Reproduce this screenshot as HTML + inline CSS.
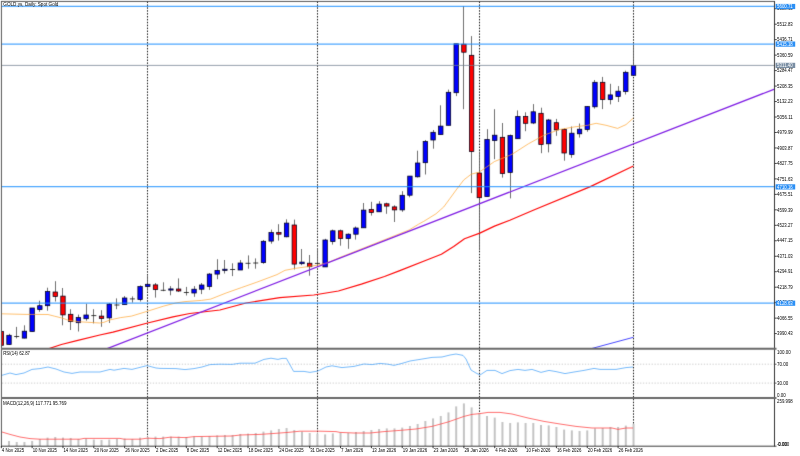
<!DOCTYPE html>
<html><head><meta charset="utf-8"><title>GOLD Daily</title>
<style>html,body{margin:0;padding:0;background:#fff;overflow:hidden}body{width:800px;height:456px;position:relative;font-family:"Liberation Sans",sans-serif}</style>
</head><body>
<svg width="800" height="456" viewBox="0 0 800 456" style="position:absolute;left:0;top:0;font-family:'Liberation Sans',sans-serif">
<defs><filter id="sb" x="0" y="0" width="800" height="456" filterUnits="userSpaceOnUse" color-interpolation-filters="sRGB"><feConvolveMatrix order="3" kernelMatrix="0.0100 0.0800 0.0100 0.0800 0.6400 0.0800 0.0100 0.0800 0.0100" divisor="1" edgeMode="duplicate" preserveAlpha="false"/></filter></defs>
<rect x="0" y="0" width="800" height="456" fill="#fff"/>
<g filter="url(#sb)">
<line x1="147.50" y1="1.5" x2="147.50" y2="446.0" stroke="#000" stroke-width="0.9" stroke-dasharray="1.5,1.4"/>
<line x1="317.50" y1="1.5" x2="317.50" y2="446.0" stroke="#000" stroke-width="0.9" stroke-dasharray="1.5,1.4"/>
<line x1="479.50" y1="1.5" x2="479.50" y2="446.0" stroke="#000" stroke-width="0.9" stroke-dasharray="1.5,1.4"/>
<line x1="633.50" y1="1.5" x2="633.50" y2="446.0" stroke="#000" stroke-width="0.9" stroke-dasharray="1.5,1.4"/>
<line x1="2" y1="364.2" x2="774.5" y2="364.2" stroke="#c0c0c0" stroke-width="0.8" stroke-dasharray="1.3,1.6"/>
<line x1="2" y1="383.1" x2="774.5" y2="383.1" stroke="#c0c0c0" stroke-width="0.8" stroke-dasharray="1.3,1.6"/>
<clipPath id="cm"><rect x="1.5" y="1.5" width="773" height="347"/></clipPath>
<g clip-path="url(#cm)">
<line x1="1.50" y1="330.5" x2="1.50" y2="347" stroke="#606060" stroke-width="0.9"/>
<rect x="-0.90" y="331.5" width="4.4" height="13.8" fill="#ff0000" stroke="#000018" stroke-width="0.75"/>
<line x1="9.50" y1="333.8" x2="9.50" y2="345" stroke="#606060" stroke-width="0.9"/>
<rect x="6.81" y="335.3" width="4.4" height="9.2" fill="#0000ff" stroke="#000018" stroke-width="0.75"/>
<line x1="16.50" y1="326.9" x2="16.50" y2="338.4" stroke="#606060" stroke-width="0.9"/>
<line x1="14.22" y1="336.5" x2="19.22" y2="336.5" stroke="#222" stroke-width="0.9"/>
<line x1="24.50" y1="325.3" x2="24.50" y2="338.4" stroke="#606060" stroke-width="0.9"/>
<rect x="22.23" y="331.2" width="4.4" height="6.9" fill="#0000ff" stroke="#000018" stroke-width="0.75"/>
<line x1="32.50" y1="308" x2="32.50" y2="331.5" stroke="#606060" stroke-width="0.9"/>
<rect x="29.94" y="308" width="4.4" height="23.5" fill="#0000ff" stroke="#000018" stroke-width="0.75"/>
<line x1="39.50" y1="300.7" x2="39.50" y2="311.8" stroke="#606060" stroke-width="0.9"/>
<rect x="37.65" y="305.7" width="4.4" height="3.9" fill="#0000ff" stroke="#000018" stroke-width="0.75"/>
<line x1="47.50" y1="287.7" x2="47.50" y2="310.7" stroke="#606060" stroke-width="0.9"/>
<rect x="45.36" y="291.5" width="4.4" height="14.2" fill="#0000ff" stroke="#000018" stroke-width="0.75"/>
<line x1="55.50" y1="281.2" x2="55.50" y2="301.5" stroke="#606060" stroke-width="0.9"/>
<rect x="53.07" y="292" width="4.4" height="4.4" fill="#ff0000" stroke="#000018" stroke-width="0.75"/>
<line x1="62.50" y1="288" x2="62.50" y2="325.3" stroke="#606060" stroke-width="0.9"/>
<rect x="60.78" y="296.1" width="4.4" height="18.8" fill="#ff0000" stroke="#000018" stroke-width="0.75"/>
<line x1="70.50" y1="309.2" x2="70.50" y2="330" stroke="#606060" stroke-width="0.9"/>
<rect x="68.49" y="314.3" width="4.4" height="7.2" fill="#ff0000" stroke="#000018" stroke-width="0.75"/>
<line x1="78.50" y1="314.6" x2="78.50" y2="331.5" stroke="#606060" stroke-width="0.9"/>
<rect x="76.20" y="317.6" width="4.4" height="5.1" fill="#0000ff" stroke="#000018" stroke-width="0.75"/>
<line x1="86.50" y1="303.8" x2="86.50" y2="320.7" stroke="#606060" stroke-width="0.9"/>
<rect x="83.91" y="315" width="4.4" height="3.7" fill="#0000ff" stroke="#000018" stroke-width="0.75"/>
<line x1="93.50" y1="309.2" x2="93.50" y2="323.4" stroke="#606060" stroke-width="0.9"/>
<line x1="91.32" y1="315.6" x2="96.32" y2="315.6" stroke="#222" stroke-width="0.9"/>
<line x1="101.50" y1="310.2" x2="101.50" y2="326.8" stroke="#606060" stroke-width="0.9"/>
<rect x="99.33" y="316.1" width="4.4" height="2.3" fill="#ff0000" stroke="#000018" stroke-width="0.75"/>
<line x1="109.50" y1="303" x2="109.50" y2="323" stroke="#606060" stroke-width="0.9"/>
<rect x="107.04" y="304.1" width="4.4" height="13.8" fill="#0000ff" stroke="#000018" stroke-width="0.75"/>
<line x1="116.50" y1="298.4" x2="116.50" y2="309.2" stroke="#606060" stroke-width="0.9"/>
<line x1="114.45" y1="305" x2="119.45" y2="305" stroke="#222" stroke-width="0.9"/>
<line x1="124.50" y1="296.1" x2="124.50" y2="304.6" stroke="#606060" stroke-width="0.9"/>
<rect x="122.46" y="298" width="4.4" height="6.6" fill="#0000ff" stroke="#000018" stroke-width="0.75"/>
<line x1="132.50" y1="296.4" x2="132.50" y2="302.6" stroke="#606060" stroke-width="0.9"/>
<line x1="129.87" y1="298.9" x2="134.87" y2="298.9" stroke="#222" stroke-width="0.9"/>
<line x1="140.50" y1="285.4" x2="140.50" y2="301.5" stroke="#606060" stroke-width="0.9"/>
<rect x="137.88" y="286.6" width="4.4" height="13.0" fill="#0000ff" stroke="#000018" stroke-width="0.75"/>
<line x1="147.50" y1="276" x2="147.50" y2="290.7" stroke="#606060" stroke-width="0.9"/>
<rect x="145.59" y="284.3" width="4.4" height="2.3" fill="#0000ff" stroke="#000018" stroke-width="0.75"/>
<line x1="155.50" y1="283" x2="155.50" y2="297.6" stroke="#606060" stroke-width="0.9"/>
<rect x="153.30" y="284.9" width="4.4" height="4.6" fill="#ff0000" stroke="#000018" stroke-width="0.75"/>
<line x1="163.50" y1="282.3" x2="163.50" y2="291.2" stroke="#606060" stroke-width="0.9"/>
<line x1="160.71" y1="290.3" x2="165.71" y2="290.3" stroke="#222" stroke-width="0.9"/>
<line x1="170.50" y1="286.1" x2="170.50" y2="295.3" stroke="#606060" stroke-width="0.9"/>
<rect x="168.72" y="288.9" width="4.4" height="1.2" fill="#0000ff" stroke="#000018" stroke-width="0.75"/>
<line x1="178.50" y1="278.4" x2="178.50" y2="292" stroke="#606060" stroke-width="0.9"/>
<rect x="176.43" y="289" width="4.4" height="2.0" fill="#ff0000" stroke="#000018" stroke-width="0.75"/>
<line x1="186.50" y1="286.9" x2="186.50" y2="295.5" stroke="#606060" stroke-width="0.9"/>
<line x1="183.84" y1="292.5" x2="188.84" y2="292.5" stroke="#222" stroke-width="0.9"/>
<line x1="194.50" y1="286.1" x2="194.50" y2="296.8" stroke="#606060" stroke-width="0.9"/>
<rect x="191.85" y="289.2" width="4.4" height="3.8" fill="#0000ff" stroke="#000018" stroke-width="0.75"/>
<line x1="201.50" y1="283" x2="201.50" y2="294.1" stroke="#606060" stroke-width="0.9"/>
<rect x="199.56" y="285" width="4.4" height="4.2" fill="#0000ff" stroke="#000018" stroke-width="0.75"/>
<line x1="209.50" y1="273" x2="209.50" y2="289.9" stroke="#606060" stroke-width="0.9"/>
<rect x="207.27" y="274.1" width="4.4" height="12.3" fill="#0000ff" stroke="#000018" stroke-width="0.75"/>
<line x1="217.50" y1="259.2" x2="217.50" y2="279.2" stroke="#606060" stroke-width="0.9"/>
<rect x="214.98" y="270.4" width="4.4" height="3.7" fill="#0000ff" stroke="#000018" stroke-width="0.75"/>
<line x1="224.50" y1="260" x2="224.50" y2="273.5" stroke="#606060" stroke-width="0.9"/>
<rect x="222.69" y="269.2" width="4.4" height="1.2" fill="#0000ff" stroke="#000018" stroke-width="0.75"/>
<line x1="232.50" y1="263.3" x2="232.50" y2="276.1" stroke="#606060" stroke-width="0.9"/>
<line x1="230.10" y1="269.5" x2="235.10" y2="269.5" stroke="#222" stroke-width="0.9"/>
<line x1="240.50" y1="260" x2="240.50" y2="270" stroke="#606060" stroke-width="0.9"/>
<rect x="238.11" y="263" width="4.4" height="7.0" fill="#0000ff" stroke="#000018" stroke-width="0.75"/>
<line x1="248.50" y1="255.4" x2="248.50" y2="268.7" stroke="#606060" stroke-width="0.9"/>
<line x1="245.52" y1="263.3" x2="250.52" y2="263.3" stroke="#222" stroke-width="0.9"/>
<line x1="255.50" y1="258.4" x2="255.50" y2="268.7" stroke="#606060" stroke-width="0.9"/>
<line x1="253.23" y1="263" x2="258.23" y2="263" stroke="#222" stroke-width="0.9"/>
<line x1="263.50" y1="240" x2="263.50" y2="263.8" stroke="#606060" stroke-width="0.9"/>
<rect x="261.24" y="241.3" width="4.4" height="21.3" fill="#0000ff" stroke="#000018" stroke-width="0.75"/>
<line x1="271.50" y1="229.6" x2="271.50" y2="243.7" stroke="#606060" stroke-width="0.9"/>
<rect x="268.95" y="232.6" width="4.4" height="8.5" fill="#0000ff" stroke="#000018" stroke-width="0.75"/>
<line x1="278.50" y1="224.2" x2="278.50" y2="240.6" stroke="#606060" stroke-width="0.9"/>
<rect x="276.66" y="232.6" width="4.4" height="1.6" fill="#ff0000" stroke="#000018" stroke-width="0.75"/>
<line x1="286.50" y1="219.3" x2="286.50" y2="237.3" stroke="#606060" stroke-width="0.9"/>
<rect x="284.37" y="223.1" width="4.4" height="13.7" fill="#0000ff" stroke="#000018" stroke-width="0.75"/>
<line x1="294.50" y1="219.6" x2="294.50" y2="269.5" stroke="#606060" stroke-width="0.9"/>
<rect x="292.08" y="225" width="4.4" height="39.1" fill="#ff0000" stroke="#000018" stroke-width="0.75"/>
<line x1="301.50" y1="249" x2="301.50" y2="265.2" stroke="#606060" stroke-width="0.9"/>
<rect x="299.79" y="262.1" width="4.4" height="1.6" fill="#0000ff" stroke="#000018" stroke-width="0.75"/>
<line x1="309.50" y1="255" x2="309.50" y2="275.7" stroke="#606060" stroke-width="0.9"/>
<rect x="307.50" y="263.2" width="4.4" height="3.5" fill="#ff0000" stroke="#000018" stroke-width="0.75"/>
<line x1="317.50" y1="248" x2="317.50" y2="266.5" stroke="#606060" stroke-width="0.9"/>
<line x1="314.91" y1="263.4" x2="319.91" y2="263.4" stroke="#222" stroke-width="0.9"/>
<line x1="325.50" y1="238.8" x2="325.50" y2="266.9" stroke="#606060" stroke-width="0.9"/>
<rect x="322.92" y="240" width="4.4" height="26.9" fill="#0000ff" stroke="#000018" stroke-width="0.75"/>
<line x1="332.50" y1="229.6" x2="332.50" y2="244.6" stroke="#606060" stroke-width="0.9"/>
<rect x="330.63" y="230.8" width="4.4" height="10.8" fill="#0000ff" stroke="#000018" stroke-width="0.75"/>
<line x1="340.50" y1="229.6" x2="340.50" y2="245.7" stroke="#606060" stroke-width="0.9"/>
<rect x="338.34" y="230.8" width="4.4" height="7.7" fill="#ff0000" stroke="#000018" stroke-width="0.75"/>
<line x1="348.50" y1="233.4" x2="348.50" y2="248.8" stroke="#606060" stroke-width="0.9"/>
<rect x="346.05" y="234.2" width="4.4" height="4.3" fill="#0000ff" stroke="#000018" stroke-width="0.75"/>
<line x1="355.50" y1="226.5" x2="355.50" y2="239.6" stroke="#606060" stroke-width="0.9"/>
<rect x="353.76" y="228" width="4.4" height="6.2" fill="#0000ff" stroke="#000018" stroke-width="0.75"/>
<line x1="363.50" y1="203" x2="363.50" y2="228" stroke="#606060" stroke-width="0.9"/>
<rect x="361.47" y="210.1" width="4.4" height="17.7" fill="#0000ff" stroke="#000018" stroke-width="0.75"/>
<line x1="371.50" y1="201.8" x2="371.50" y2="215.6" stroke="#606060" stroke-width="0.9"/>
<rect x="369.18" y="209.5" width="4.4" height="3.0" fill="#ff0000" stroke="#000018" stroke-width="0.75"/>
<line x1="379.50" y1="201.2" x2="379.50" y2="211.8" stroke="#606060" stroke-width="0.9"/>
<rect x="376.89" y="204.1" width="4.4" height="7.7" fill="#0000ff" stroke="#000018" stroke-width="0.75"/>
<line x1="386.50" y1="202.7" x2="386.50" y2="213.8" stroke="#606060" stroke-width="0.9"/>
<rect x="384.60" y="203.8" width="4.4" height="2.3" fill="#ff0000" stroke="#000018" stroke-width="0.75"/>
<line x1="394.50" y1="205.3" x2="394.50" y2="222" stroke="#606060" stroke-width="0.9"/>
<rect x="392.31" y="206.9" width="4.4" height="3.0" fill="#ff0000" stroke="#000018" stroke-width="0.75"/>
<line x1="402.50" y1="191.2" x2="402.50" y2="211.8" stroke="#606060" stroke-width="0.9"/>
<rect x="400.02" y="195.3" width="4.4" height="14.6" fill="#0000ff" stroke="#000018" stroke-width="0.75"/>
<line x1="409.50" y1="176.1" x2="409.50" y2="197.3" stroke="#606060" stroke-width="0.9"/>
<rect x="407.73" y="176.1" width="4.4" height="19.1" fill="#0000ff" stroke="#000018" stroke-width="0.75"/>
<line x1="417.50" y1="150.7" x2="417.50" y2="177.6" stroke="#606060" stroke-width="0.9"/>
<rect x="415.44" y="163" width="4.4" height="13.8" fill="#0000ff" stroke="#000018" stroke-width="0.75"/>
<line x1="425.50" y1="140" x2="425.50" y2="174.5" stroke="#606060" stroke-width="0.9"/>
<rect x="423.15" y="141.5" width="4.4" height="21.2" fill="#0000ff" stroke="#000018" stroke-width="0.75"/>
<line x1="433.50" y1="130" x2="433.50" y2="148.7" stroke="#606060" stroke-width="0.9"/>
<rect x="430.86" y="132.3" width="4.4" height="7.7" fill="#0000ff" stroke="#000018" stroke-width="0.75"/>
<line x1="440.50" y1="105.3" x2="440.50" y2="134.6" stroke="#606060" stroke-width="0.9"/>
<rect x="438.57" y="126.1" width="4.4" height="8.5" fill="#0000ff" stroke="#000018" stroke-width="0.75"/>
<line x1="448.50" y1="89.6" x2="448.50" y2="125.3" stroke="#606060" stroke-width="0.9"/>
<rect x="446.28" y="92.3" width="4.4" height="33.0" fill="#0000ff" stroke="#000018" stroke-width="0.75"/>
<line x1="456.50" y1="43.8" x2="456.50" y2="96.1" stroke="#606060" stroke-width="0.9"/>
<rect x="453.99" y="43.8" width="4.4" height="48.9" fill="#0000ff" stroke="#000018" stroke-width="0.75"/>
<line x1="463.50" y1="6.1" x2="463.50" y2="109.2" stroke="#606060" stroke-width="0.9"/>
<rect x="461.70" y="44.2" width="4.4" height="8.0" fill="#ff0000" stroke="#000018" stroke-width="0.75"/>
<line x1="471.50" y1="36.1" x2="471.50" y2="193.1" stroke="#606060" stroke-width="0.9"/>
<rect x="469.41" y="55.3" width="4.4" height="96.2" fill="#ff0000" stroke="#000018" stroke-width="0.75"/>
<line x1="479.50" y1="151.5" x2="479.50" y2="250.5" stroke="#606060" stroke-width="0.9"/>
<rect x="477.12" y="173" width="4.4" height="24.7" fill="#ff0000" stroke="#000018" stroke-width="0.75"/>
<line x1="487.50" y1="129.2" x2="487.50" y2="196.6" stroke="#606060" stroke-width="0.9"/>
<rect x="484.83" y="139.5" width="4.4" height="57.1" fill="#0000ff" stroke="#000018" stroke-width="0.75"/>
<line x1="494.50" y1="109.2" x2="494.50" y2="159.2" stroke="#606060" stroke-width="0.9"/>
<rect x="492.54" y="135.2" width="4.4" height="5.3" fill="#0000ff" stroke="#000018" stroke-width="0.75"/>
<line x1="502.50" y1="123" x2="502.50" y2="177.6" stroke="#606060" stroke-width="0.9"/>
<rect x="500.25" y="137.3" width="4.4" height="36.2" fill="#ff0000" stroke="#000018" stroke-width="0.75"/>
<line x1="510.50" y1="134.5" x2="510.50" y2="198.4" stroke="#606060" stroke-width="0.9"/>
<rect x="507.96" y="135.6" width="4.4" height="36.8" fill="#0000ff" stroke="#000018" stroke-width="0.75"/>
<line x1="517.50" y1="110.4" x2="517.50" y2="138.7" stroke="#606060" stroke-width="0.9"/>
<rect x="515.67" y="116.4" width="4.4" height="22.3" fill="#0000ff" stroke="#000018" stroke-width="0.75"/>
<line x1="525.50" y1="112.3" x2="525.50" y2="131.2" stroke="#606060" stroke-width="0.9"/>
<rect x="523.38" y="116.4" width="4.4" height="6.9" fill="#ff0000" stroke="#000018" stroke-width="0.75"/>
<line x1="533.50" y1="104.1" x2="533.50" y2="124.1" stroke="#606060" stroke-width="0.9"/>
<rect x="531.09" y="111.8" width="4.4" height="11.2" fill="#0000ff" stroke="#000018" stroke-width="0.75"/>
<line x1="541.50" y1="107.7" x2="541.50" y2="153.2" stroke="#606060" stroke-width="0.9"/>
<rect x="538.80" y="113.3" width="4.4" height="31.2" fill="#ff0000" stroke="#000018" stroke-width="0.75"/>
<line x1="548.50" y1="118.9" x2="548.50" y2="152.4" stroke="#606060" stroke-width="0.9"/>
<rect x="546.51" y="120" width="4.4" height="23.8" fill="#0000ff" stroke="#000018" stroke-width="0.75"/>
<line x1="556.50" y1="118.9" x2="556.50" y2="135.8" stroke="#606060" stroke-width="0.9"/>
<rect x="554.22" y="122.7" width="4.4" height="7.2" fill="#ff0000" stroke="#000018" stroke-width="0.75"/>
<line x1="564.50" y1="128.4" x2="564.50" y2="160.7" stroke="#606060" stroke-width="0.9"/>
<rect x="561.93" y="129.4" width="4.4" height="23.6" fill="#ff0000" stroke="#000018" stroke-width="0.75"/>
<line x1="571.50" y1="126.5" x2="571.50" y2="157.8" stroke="#606060" stroke-width="0.9"/>
<rect x="569.64" y="133.2" width="4.4" height="21.3" fill="#0000ff" stroke="#000018" stroke-width="0.75"/>
<line x1="579.50" y1="123.5" x2="579.50" y2="137.6" stroke="#606060" stroke-width="0.9"/>
<rect x="577.35" y="129.2" width="4.4" height="4.6" fill="#0000ff" stroke="#000018" stroke-width="0.75"/>
<line x1="587.50" y1="106.1" x2="587.50" y2="131.7" stroke="#606060" stroke-width="0.9"/>
<rect x="585.06" y="106.6" width="4.4" height="22.9" fill="#0000ff" stroke="#000018" stroke-width="0.75"/>
<line x1="594.50" y1="80" x2="594.50" y2="108.6" stroke="#606060" stroke-width="0.9"/>
<rect x="592.77" y="82.3" width="4.4" height="24.5" fill="#0000ff" stroke="#000018" stroke-width="0.75"/>
<line x1="602.50" y1="76.9" x2="602.50" y2="109.1" stroke="#606060" stroke-width="0.9"/>
<rect x="600.48" y="82.3" width="4.4" height="17.2" fill="#ff0000" stroke="#000018" stroke-width="0.75"/>
<line x1="610.50" y1="83.8" x2="610.50" y2="104.4" stroke="#606060" stroke-width="0.9"/>
<rect x="608.19" y="94.9" width="4.4" height="4.7" fill="#0000ff" stroke="#000018" stroke-width="0.75"/>
<line x1="618.50" y1="86.1" x2="618.50" y2="102" stroke="#606060" stroke-width="0.9"/>
<rect x="615.90" y="91.2" width="4.4" height="5.3" fill="#0000ff" stroke="#000018" stroke-width="0.75"/>
<line x1="625.50" y1="70.7" x2="625.50" y2="94.5" stroke="#606060" stroke-width="0.9"/>
<rect x="623.61" y="72.3" width="4.4" height="19.2" fill="#0000ff" stroke="#000018" stroke-width="0.75"/>
<line x1="633.50" y1="44.5" x2="633.50" y2="75.3" stroke="#606060" stroke-width="0.9"/>
<rect x="631.32" y="65.4" width="4.4" height="9.9" fill="#0000ff" stroke="#000018" stroke-width="0.75"/>
<polyline points="1.5,313.8 25.0,314.4 48.0,314.5 54.2,316.1 61.9,318.0 66.5,319.6 69.1,320.5 79.9,321.8 99.8,323.0 104.0,322.3 110.0,319.9 120.7,317.6 131.5,316.1 147.6,311.2 163.7,306.1 176.0,302.9 185.0,301.6 201.5,300.4 210.7,299.1 226.1,293.0 241.4,287.6 256.8,282.2 277.0,274.6 285.0,270.3 295.7,268.3 309.5,266.4 317.2,265.2 326.4,263.0 330.7,261.4 340.0,257.4 399.8,233.7 409.1,230.0 418.4,224.3 423.7,221.4 436.0,213.8 440.7,209.6 443.7,207.0 450.0,198.4 456.1,190.0 463.8,179.9 471.4,174.1 479.1,172.2 486.8,166.9 494.5,161.5 502.2,158.4 509.8,155.3 513.0,153.7 528.4,143.8 543.8,135.3 559.1,129.6 574.5,126.9 587.6,125.3 596.1,123.3 606.1,125.3 617.6,128.4 626.0,124.6 633.4,118.1" fill="none" stroke="#ffa530" stroke-width="0.7" stroke-linejoin="round"/>
<polyline points="47.6,349.0 61.4,344.5 76.8,340.7 99.8,335.0 113.0,332.2 147.6,323.0 173.0,316.9 189.8,313.5 219.9,310.0 246.0,303.0 279.8,297.6 313.8,295.0 338.4,291.0 361.4,284.1 384.5,276.5 399.8,270.6 426.1,260.3 441.4,254.2 453.7,246.5 464.5,238.8 479.8,233.1 494.5,226.1 509.8,220.2 533.8,210.0 589.8,186.9 633.4,166.0" fill="none" stroke="#ff0808" stroke-width="1.2" stroke-linejoin="round"/>
<line x1="590.7" y1="348.8" x2="633.4" y2="337.3" stroke="#3232ff" stroke-width="0.9"/>
<line x1="100" y1="351.4" x2="774.5" y2="89.1" stroke="#8020e4" stroke-width="1.3"/>
<line x1="1.5" y1="6.35" x2="774.5" y2="6.35" stroke="#1e90ff" stroke-opacity="0.8" stroke-width="1.3"/>
<line x1="1.5" y1="44.05" x2="774.5" y2="44.05" stroke="#1e90ff" stroke-opacity="0.8" stroke-width="1.3"/>
<line x1="1.5" y1="186.7" x2="774.5" y2="186.7" stroke="#1e90ff" stroke-opacity="0.8" stroke-width="1.3"/>
<line x1="1.5" y1="303.05" x2="774.5" y2="303.05" stroke="#1e90ff" stroke-opacity="0.8" stroke-width="1.3"/>
<line x1="1.5" y1="65.4" x2="774.5" y2="65.4" stroke="#708090" stroke-width="0.75"/>
</g>
<polyline points="1.6,375.4 10.0,373.0 16.0,374.6 24.0,373.0 32.0,369.4 40.0,368.6 48.0,367.0 56.0,369.0 64.0,372.0 72.0,373.4 80.0,372.0 100.0,372.0 110.0,369.4 114.0,370.2 124.0,368.4 132.0,369.4 147.0,365.6 156.0,368.0 160.0,368.4 176.0,368.6 185.0,369.6 194.0,368.6 202.0,367.0 210.0,364.6 220.0,364.2 232.0,364.4 240.0,363.2 255.0,363.2 264.0,359.4 271.0,358.2 278.0,359.4 282.0,358.4 286.4,358.4 293.6,371.4 304.0,371.4 310.0,372.4 317.0,371.2 320.0,370.0 326.0,367.0 332.0,365.8 342.0,367.6 354.0,366.4 364.0,364.0 372.0,364.6 380.0,363.4 388.0,364.2 394.0,365.4 402.0,363.4 410.0,361.0 420.0,359.4 432.0,357.4 442.0,357.0 450.0,355.0 456.0,354.0 463.0,355.4 466.0,359.0 471.0,370.0 476.0,373.0 480.0,375.0 487.0,370.4 495.0,370.4 502.0,373.6 510.0,370.6 518.0,369.4 525.0,370.4 532.0,369.4 541.0,372.4 549.0,370.4 556.0,371.6 565.0,373.6 574.0,372.0 584.0,370.4 594.0,368.4 600.0,369.4 616.0,369.4 626.0,367.6 633.0,367.0" fill="none" stroke="#3c9cf8" stroke-width="0.7" stroke-linejoin="round"/>
<line x1="9.01" y1="441" x2="9.01" y2="446.0" stroke="#c4c4c4" stroke-width="2.0"/>
<line x1="16.72" y1="442" x2="16.72" y2="446.0" stroke="#c4c4c4" stroke-width="2.0"/>
<line x1="24.43" y1="442" x2="24.43" y2="446.0" stroke="#c4c4c4" stroke-width="2.0"/>
<line x1="32.14" y1="441" x2="32.14" y2="446.0" stroke="#c4c4c4" stroke-width="2.0"/>
<line x1="39.85" y1="439" x2="39.85" y2="446.0" stroke="#c4c4c4" stroke-width="2.0"/>
<line x1="47.56" y1="437.6" x2="47.56" y2="446.0" stroke="#c4c4c4" stroke-width="2.0"/>
<line x1="55.27" y1="437" x2="55.27" y2="446.0" stroke="#c4c4c4" stroke-width="2.0"/>
<line x1="62.98" y1="437.6" x2="62.98" y2="446.0" stroke="#c4c4c4" stroke-width="2.0"/>
<line x1="70.69" y1="438" x2="70.69" y2="446.0" stroke="#c4c4c4" stroke-width="2.0"/>
<line x1="78.40" y1="439" x2="78.40" y2="446.0" stroke="#c4c4c4" stroke-width="2.0"/>
<line x1="86.11" y1="438.6" x2="86.11" y2="446.0" stroke="#c4c4c4" stroke-width="2.0"/>
<line x1="93.82" y1="439.6" x2="93.82" y2="446.0" stroke="#c4c4c4" stroke-width="2.0"/>
<line x1="101.53" y1="440" x2="101.53" y2="446.0" stroke="#c4c4c4" stroke-width="2.0"/>
<line x1="109.24" y1="439.6" x2="109.24" y2="446.0" stroke="#c4c4c4" stroke-width="2.0"/>
<line x1="116.95" y1="439" x2="116.95" y2="446.0" stroke="#c4c4c4" stroke-width="2.0"/>
<line x1="124.66" y1="438.6" x2="124.66" y2="446.0" stroke="#c4c4c4" stroke-width="2.0"/>
<line x1="132.37" y1="439" x2="132.37" y2="446.0" stroke="#c4c4c4" stroke-width="2.0"/>
<line x1="140.08" y1="437.6" x2="140.08" y2="446.0" stroke="#c4c4c4" stroke-width="2.0"/>
<line x1="147.79" y1="437" x2="147.79" y2="446.0" stroke="#c4c4c4" stroke-width="2.0"/>
<line x1="155.50" y1="436.6" x2="155.50" y2="446.0" stroke="#c4c4c4" stroke-width="2.0"/>
<line x1="163.21" y1="436.6" x2="163.21" y2="446.0" stroke="#c4c4c4" stroke-width="2.0"/>
<line x1="170.92" y1="436.6" x2="170.92" y2="446.0" stroke="#c4c4c4" stroke-width="2.0"/>
<line x1="178.63" y1="436.6" x2="178.63" y2="446.0" stroke="#c4c4c4" stroke-width="2.0"/>
<line x1="186.34" y1="437" x2="186.34" y2="446.0" stroke="#c4c4c4" stroke-width="2.0"/>
<line x1="194.05" y1="436.6" x2="194.05" y2="446.0" stroke="#c4c4c4" stroke-width="2.0"/>
<line x1="201.76" y1="436.6" x2="201.76" y2="446.0" stroke="#c4c4c4" stroke-width="2.0"/>
<line x1="209.47" y1="436" x2="209.47" y2="446.0" stroke="#c4c4c4" stroke-width="2.0"/>
<line x1="217.18" y1="435.4" x2="217.18" y2="446.0" stroke="#c4c4c4" stroke-width="2.0"/>
<line x1="224.89" y1="435" x2="224.89" y2="446.0" stroke="#c4c4c4" stroke-width="2.0"/>
<line x1="232.60" y1="435" x2="232.60" y2="446.0" stroke="#c4c4c4" stroke-width="2.0"/>
<line x1="240.31" y1="434" x2="240.31" y2="446.0" stroke="#c4c4c4" stroke-width="2.0"/>
<line x1="248.02" y1="433.6" x2="248.02" y2="446.0" stroke="#c4c4c4" stroke-width="2.0"/>
<line x1="255.73" y1="433" x2="255.73" y2="446.0" stroke="#c4c4c4" stroke-width="2.0"/>
<line x1="263.44" y1="431.6" x2="263.44" y2="446.0" stroke="#c4c4c4" stroke-width="2.0"/>
<line x1="271.15" y1="430.4" x2="271.15" y2="446.0" stroke="#c4c4c4" stroke-width="2.0"/>
<line x1="278.86" y1="429" x2="278.86" y2="446.0" stroke="#c4c4c4" stroke-width="2.0"/>
<line x1="286.57" y1="428" x2="286.57" y2="446.0" stroke="#c4c4c4" stroke-width="2.0"/>
<line x1="294.28" y1="430" x2="294.28" y2="446.0" stroke="#c4c4c4" stroke-width="2.0"/>
<line x1="301.99" y1="431.6" x2="301.99" y2="446.0" stroke="#c4c4c4" stroke-width="2.0"/>
<line x1="309.70" y1="433" x2="309.70" y2="446.0" stroke="#c4c4c4" stroke-width="2.0"/>
<line x1="317.41" y1="433.6" x2="317.41" y2="446.0" stroke="#c4c4c4" stroke-width="2.0"/>
<line x1="325.12" y1="434.4" x2="325.12" y2="446.0" stroke="#c4c4c4" stroke-width="2.0"/>
<line x1="332.83" y1="433.4" x2="332.83" y2="446.0" stroke="#c4c4c4" stroke-width="2.0"/>
<line x1="340.54" y1="432.6" x2="340.54" y2="446.0" stroke="#c4c4c4" stroke-width="2.0"/>
<line x1="348.25" y1="433" x2="348.25" y2="446.0" stroke="#c4c4c4" stroke-width="2.0"/>
<line x1="355.96" y1="432" x2="355.96" y2="446.0" stroke="#c4c4c4" stroke-width="2.0"/>
<line x1="363.67" y1="431" x2="363.67" y2="446.0" stroke="#c4c4c4" stroke-width="2.0"/>
<line x1="371.38" y1="430" x2="371.38" y2="446.0" stroke="#c4c4c4" stroke-width="2.0"/>
<line x1="379.09" y1="429" x2="379.09" y2="446.0" stroke="#c4c4c4" stroke-width="2.0"/>
<line x1="386.80" y1="428.4" x2="386.80" y2="446.0" stroke="#c4c4c4" stroke-width="2.0"/>
<line x1="394.51" y1="428.4" x2="394.51" y2="446.0" stroke="#c4c4c4" stroke-width="2.0"/>
<line x1="402.22" y1="427.6" x2="402.22" y2="446.0" stroke="#c4c4c4" stroke-width="2.0"/>
<line x1="409.93" y1="426" x2="409.93" y2="446.0" stroke="#c4c4c4" stroke-width="2.0"/>
<line x1="417.64" y1="424" x2="417.64" y2="446.0" stroke="#c4c4c4" stroke-width="2.0"/>
<line x1="425.35" y1="421" x2="425.35" y2="446.0" stroke="#c4c4c4" stroke-width="2.0"/>
<line x1="433.06" y1="418.4" x2="433.06" y2="446.0" stroke="#c4c4c4" stroke-width="2.0"/>
<line x1="440.77" y1="416" x2="440.77" y2="446.0" stroke="#c4c4c4" stroke-width="2.0"/>
<line x1="448.48" y1="412.4" x2="448.48" y2="446.0" stroke="#c4c4c4" stroke-width="2.0"/>
<line x1="456.19" y1="406.4" x2="456.19" y2="446.0" stroke="#c4c4c4" stroke-width="2.0"/>
<line x1="463.90" y1="403.4" x2="463.90" y2="446.0" stroke="#c4c4c4" stroke-width="2.0"/>
<line x1="471.61" y1="407.4" x2="471.61" y2="446.0" stroke="#c4c4c4" stroke-width="2.0"/>
<line x1="479.32" y1="413" x2="479.32" y2="446.0" stroke="#c4c4c4" stroke-width="2.0"/>
<line x1="487.03" y1="416" x2="487.03" y2="446.0" stroke="#c4c4c4" stroke-width="2.0"/>
<line x1="494.74" y1="417.6" x2="494.74" y2="446.0" stroke="#c4c4c4" stroke-width="2.0"/>
<line x1="502.45" y1="422" x2="502.45" y2="446.0" stroke="#c4c4c4" stroke-width="2.0"/>
<line x1="510.16" y1="423" x2="510.16" y2="446.0" stroke="#c4c4c4" stroke-width="2.0"/>
<line x1="517.87" y1="422.4" x2="517.87" y2="446.0" stroke="#c4c4c4" stroke-width="2.0"/>
<line x1="525.58" y1="423" x2="525.58" y2="446.0" stroke="#c4c4c4" stroke-width="2.0"/>
<line x1="533.29" y1="423" x2="533.29" y2="446.0" stroke="#c4c4c4" stroke-width="2.0"/>
<line x1="541.00" y1="425" x2="541.00" y2="446.0" stroke="#c4c4c4" stroke-width="2.0"/>
<line x1="548.71" y1="425.4" x2="548.71" y2="446.0" stroke="#c4c4c4" stroke-width="2.0"/>
<line x1="556.42" y1="427" x2="556.42" y2="446.0" stroke="#c4c4c4" stroke-width="2.0"/>
<line x1="564.13" y1="429.6" x2="564.13" y2="446.0" stroke="#c4c4c4" stroke-width="2.0"/>
<line x1="571.84" y1="430.4" x2="571.84" y2="446.0" stroke="#c4c4c4" stroke-width="2.0"/>
<line x1="579.55" y1="431" x2="579.55" y2="446.0" stroke="#c4c4c4" stroke-width="2.0"/>
<line x1="587.26" y1="430.4" x2="587.26" y2="446.0" stroke="#c4c4c4" stroke-width="2.0"/>
<line x1="594.97" y1="428.4" x2="594.97" y2="446.0" stroke="#c4c4c4" stroke-width="2.0"/>
<line x1="602.68" y1="428" x2="602.68" y2="446.0" stroke="#c4c4c4" stroke-width="2.0"/>
<line x1="610.39" y1="427" x2="610.39" y2="446.0" stroke="#c4c4c4" stroke-width="2.0"/>
<line x1="618.10" y1="427" x2="618.10" y2="446.0" stroke="#c4c4c4" stroke-width="2.0"/>
<line x1="625.81" y1="425.6" x2="625.81" y2="446.0" stroke="#c4c4c4" stroke-width="2.0"/>
<line x1="633.52" y1="424" x2="633.52" y2="446.0" stroke="#c4c4c4" stroke-width="2.0"/>
<polyline points="2.0,432.0 10.0,434.4 20.0,437.0 30.0,438.6 40.0,439.2 80.0,439.2 84.0,438.4 120.0,438.4 124.0,439.2 140.0,439.2 147.0,438.2 160.0,438.6 170.0,437.2 186.0,437.6 194.0,436.6 232.0,436.0 240.0,435.0 260.0,434.4 272.0,433.6 288.0,432.4 300.0,431.2 320.0,431.2 336.0,431.6 340.0,432.4 354.0,433.0 370.0,433.0 384.0,431.6 400.0,430.4 416.0,429.0 432.0,426.4 448.0,422.0 464.0,416.4 472.0,414.4 480.0,413.6 488.0,412.4 500.0,412.4 512.0,414.0 528.0,418.0 544.0,421.4 560.0,424.0 576.0,426.4 592.0,428.0 612.0,428.0 618.0,429.4 626.0,428.0 633.0,428.0" fill="none" stroke="#ff4a4a" stroke-width="0.8" stroke-linejoin="round"/>
<line x1="1" y1="1.45" x2="775.0" y2="1.45" stroke="#444" stroke-width="0.9"/>
<line x1="1.45" y1="1" x2="1.45" y2="446.5" stroke="#444" stroke-width="0.9"/>
<line x1="774.5" y1="1" x2="774.5" y2="446.5" stroke="#333" stroke-width="1"/>
<line x1="1" y1="446.2" x2="776.5" y2="446.2" stroke="#262626" stroke-width="0.9"/>
<line x1="1" y1="348.8" x2="776.5" y2="348.8" stroke="#6a6a6a" stroke-width="2"/>
<line x1="1" y1="397.9" x2="776.5" y2="397.9" stroke="#6a6a6a" stroke-width="2"/>
</g>
<g id="labels" style="filter:blur(0.12px)">
<line x1="774.5" y1="8.73" x2="776.8" y2="8.73" stroke="#333" stroke-width="0.9"/>
<text x="777.1" y="10.43" font-size="4.5" fill="#000" textLength="15.7" lengthAdjust="spacingAndGlyphs">5588.95</text>
<line x1="774.5" y1="24.20" x2="776.8" y2="24.20" stroke="#333" stroke-width="0.9"/>
<text x="777.1" y="25.90" font-size="4.5" fill="#000" textLength="15.7" lengthAdjust="spacingAndGlyphs">5512.83</text>
<line x1="774.5" y1="39.67" x2="776.8" y2="39.67" stroke="#333" stroke-width="0.9"/>
<text x="777.1" y="41.37" font-size="4.5" fill="#000" textLength="15.7" lengthAdjust="spacingAndGlyphs">5436.71</text>
<line x1="774.5" y1="55.14" x2="776.8" y2="55.14" stroke="#333" stroke-width="0.9"/>
<text x="777.1" y="56.84" font-size="4.5" fill="#000" textLength="15.7" lengthAdjust="spacingAndGlyphs">5360.59</text>
<line x1="774.5" y1="70.61" x2="776.8" y2="70.61" stroke="#333" stroke-width="0.9"/>
<text x="777.1" y="72.31" font-size="4.5" fill="#000" textLength="15.7" lengthAdjust="spacingAndGlyphs">5284.47</text>
<line x1="774.5" y1="86.08" x2="776.8" y2="86.08" stroke="#333" stroke-width="0.9"/>
<text x="777.1" y="87.78" font-size="4.5" fill="#000" textLength="15.7" lengthAdjust="spacingAndGlyphs">5208.35</text>
<line x1="774.5" y1="101.55" x2="776.8" y2="101.55" stroke="#333" stroke-width="0.9"/>
<text x="777.1" y="103.25" font-size="4.5" fill="#000" textLength="15.7" lengthAdjust="spacingAndGlyphs">5132.23</text>
<line x1="774.5" y1="117.02" x2="776.8" y2="117.02" stroke="#333" stroke-width="0.9"/>
<text x="777.1" y="118.72" font-size="4.5" fill="#000" textLength="15.7" lengthAdjust="spacingAndGlyphs">5056.11</text>
<line x1="774.5" y1="132.49" x2="776.8" y2="132.49" stroke="#333" stroke-width="0.9"/>
<text x="777.1" y="134.19" font-size="4.5" fill="#000" textLength="15.7" lengthAdjust="spacingAndGlyphs">4979.99</text>
<line x1="774.5" y1="147.96" x2="776.8" y2="147.96" stroke="#333" stroke-width="0.9"/>
<text x="777.1" y="149.66" font-size="4.5" fill="#000" textLength="15.7" lengthAdjust="spacingAndGlyphs">4903.87</text>
<line x1="774.5" y1="163.43" x2="776.8" y2="163.43" stroke="#333" stroke-width="0.9"/>
<text x="777.1" y="165.13" font-size="4.5" fill="#000" textLength="15.7" lengthAdjust="spacingAndGlyphs">4827.75</text>
<line x1="774.5" y1="178.90" x2="776.8" y2="178.90" stroke="#333" stroke-width="0.9"/>
<text x="777.1" y="180.60" font-size="4.5" fill="#000" textLength="15.7" lengthAdjust="spacingAndGlyphs">4751.63</text>
<line x1="774.5" y1="194.37" x2="776.8" y2="194.37" stroke="#333" stroke-width="0.9"/>
<text x="777.1" y="196.07" font-size="4.5" fill="#000" textLength="15.7" lengthAdjust="spacingAndGlyphs">4675.51</text>
<line x1="774.5" y1="209.84" x2="776.8" y2="209.84" stroke="#333" stroke-width="0.9"/>
<text x="777.1" y="211.54" font-size="4.5" fill="#000" textLength="15.7" lengthAdjust="spacingAndGlyphs">4599.39</text>
<line x1="774.5" y1="225.31" x2="776.8" y2="225.31" stroke="#333" stroke-width="0.9"/>
<text x="777.1" y="227.01" font-size="4.5" fill="#000" textLength="15.7" lengthAdjust="spacingAndGlyphs">4523.27</text>
<line x1="774.5" y1="240.78" x2="776.8" y2="240.78" stroke="#333" stroke-width="0.9"/>
<text x="777.1" y="242.48" font-size="4.5" fill="#000" textLength="15.7" lengthAdjust="spacingAndGlyphs">4447.15</text>
<line x1="774.5" y1="256.25" x2="776.8" y2="256.25" stroke="#333" stroke-width="0.9"/>
<text x="777.1" y="257.95" font-size="4.5" fill="#000" textLength="15.7" lengthAdjust="spacingAndGlyphs">4371.03</text>
<line x1="774.5" y1="271.72" x2="776.8" y2="271.72" stroke="#333" stroke-width="0.9"/>
<text x="777.1" y="273.42" font-size="4.5" fill="#000" textLength="15.7" lengthAdjust="spacingAndGlyphs">4294.91</text>
<line x1="774.5" y1="287.19" x2="776.8" y2="287.19" stroke="#333" stroke-width="0.9"/>
<text x="777.1" y="288.89" font-size="4.5" fill="#000" textLength="15.7" lengthAdjust="spacingAndGlyphs">4218.79</text>
<line x1="774.5" y1="302.66" x2="776.8" y2="302.66" stroke="#333" stroke-width="0.9"/>
<text x="777.1" y="304.36" font-size="4.5" fill="#000" textLength="15.7" lengthAdjust="spacingAndGlyphs">4142.67</text>
<line x1="774.5" y1="318.13" x2="776.8" y2="318.13" stroke="#333" stroke-width="0.9"/>
<text x="777.1" y="319.83" font-size="4.5" fill="#000" textLength="15.7" lengthAdjust="spacingAndGlyphs">4066.55</text>
<line x1="774.5" y1="333.60" x2="776.8" y2="333.60" stroke="#333" stroke-width="0.9"/>
<text x="777.1" y="335.30" font-size="4.5" fill="#000" textLength="15.7" lengthAdjust="spacingAndGlyphs">3990.43</text>
<rect x="775.6" y="3.90" width="19.6" height="5.2" fill="#2b8ff5"/>
<text x="777.1" y="8.20" font-size="4.5" fill="#fff" textLength="15.7" lengthAdjust="spacingAndGlyphs">5600.71</text>
<rect x="775.6" y="41.50" width="19.6" height="5.2" fill="#2b8ff5"/>
<text x="777.1" y="45.80" font-size="4.5" fill="#fff" textLength="15.7" lengthAdjust="spacingAndGlyphs">5415.18</text>
<rect x="775.6" y="62.80" width="19.6" height="5.2" fill="#7a8ea3"/>
<text x="777.1" y="67.10" font-size="4.5" fill="#fff" textLength="15.7" lengthAdjust="spacingAndGlyphs">5311.40</text>
<rect x="775.6" y="184.30" width="19.6" height="5.2" fill="#2b8ff5"/>
<text x="777.1" y="188.60" font-size="4.5" fill="#fff" textLength="15.7" lengthAdjust="spacingAndGlyphs">4710.16</text>
<rect x="775.6" y="300.60" width="19.6" height="5.2" fill="#2b8ff5"/>
<text x="777.1" y="304.90" font-size="4.5" fill="#fff" textLength="15.7" lengthAdjust="spacingAndGlyphs">4128.63</text>
<text x="777.1" y="354.00" font-size="4.5" fill="#000">100.00</text>
<text x="777.1" y="365.80" font-size="4.5" fill="#000">70.00</text>
<text x="777.1" y="385.00" font-size="4.5" fill="#000">30.00</text>
<text x="777.1" y="396.90" font-size="4.5" fill="#000">0.00</text>
<line x1="774.5" y1="364.2" x2="776.5" y2="364.2" stroke="#444" stroke-width="0.8"/>
<line x1="774.5" y1="383.1" x2="776.5" y2="383.1" stroke="#444" stroke-width="0.8"/>
<text x="777.1" y="403.0" font-size="4.5" fill="#000" textLength="15.7" lengthAdjust="spacingAndGlyphs">259.998</text>
<text x="777.1" y="445.6" font-size="4.5" fill="#000">-0.00</text>
<text x="778.0" y="445.9" font-size="4.5" fill="#000">0.000</text>
<text x="3.3" y="6.0" font-size="4.5" fill="#000" textLength="55.1" lengthAdjust="spacingAndGlyphs">GOLD.ys, Daily:  Spot Gold</text>
<text x="3.2" y="355.3" font-size="4.5" fill="#000" textLength="26.8" lengthAdjust="spacingAndGlyphs">RSI(14) 62.87</text>
<text x="3.0" y="404.8" font-size="4.5" fill="#000" textLength="63.5" lengthAdjust="spacingAndGlyphs">MACD(12,26,9) 117.771 95.769</text>
<line x1="1.30" y1="446.0" x2="1.30" y2="448.2" stroke="#333" stroke-width="0.9"/>
<text x="1.80" y="452.2" font-size="4.5" fill="#000" textLength="22.3" lengthAdjust="spacingAndGlyphs">4 Nov 2025</text>
<line x1="32.14" y1="446.0" x2="32.14" y2="448.2" stroke="#333" stroke-width="0.9"/>
<text x="32.64" y="452.2" font-size="4.5" fill="#000" textLength="24.4" lengthAdjust="spacingAndGlyphs">10 Nov 2025</text>
<line x1="62.98" y1="446.0" x2="62.98" y2="448.2" stroke="#333" stroke-width="0.9"/>
<text x="63.48" y="452.2" font-size="4.5" fill="#000" textLength="24.4" lengthAdjust="spacingAndGlyphs">14 Nov 2025</text>
<line x1="93.82" y1="446.0" x2="93.82" y2="448.2" stroke="#333" stroke-width="0.9"/>
<text x="94.32" y="452.2" font-size="4.5" fill="#000" textLength="24.4" lengthAdjust="spacingAndGlyphs">20 Nov 2025</text>
<line x1="124.66" y1="446.0" x2="124.66" y2="448.2" stroke="#333" stroke-width="0.9"/>
<text x="125.16" y="452.2" font-size="4.5" fill="#000" textLength="24.4" lengthAdjust="spacingAndGlyphs">26 Nov 2025</text>
<line x1="155.50" y1="446.0" x2="155.50" y2="448.2" stroke="#333" stroke-width="0.9"/>
<text x="156.00" y="452.2" font-size="4.5" fill="#000" textLength="22.3" lengthAdjust="spacingAndGlyphs">2 Dec 2025</text>
<line x1="186.34" y1="446.0" x2="186.34" y2="448.2" stroke="#333" stroke-width="0.9"/>
<text x="186.84" y="452.2" font-size="4.5" fill="#000" textLength="22.3" lengthAdjust="spacingAndGlyphs">8 Dec 2025</text>
<line x1="217.18" y1="446.0" x2="217.18" y2="448.2" stroke="#333" stroke-width="0.9"/>
<text x="217.68" y="452.2" font-size="4.5" fill="#000" textLength="24.4" lengthAdjust="spacingAndGlyphs">12 Dec 2025</text>
<line x1="248.02" y1="446.0" x2="248.02" y2="448.2" stroke="#333" stroke-width="0.9"/>
<text x="248.52" y="452.2" font-size="4.5" fill="#000" textLength="24.4" lengthAdjust="spacingAndGlyphs">18 Dec 2025</text>
<line x1="278.86" y1="446.0" x2="278.86" y2="448.2" stroke="#333" stroke-width="0.9"/>
<text x="279.36" y="452.2" font-size="4.5" fill="#000" textLength="24.4" lengthAdjust="spacingAndGlyphs">24 Dec 2025</text>
<line x1="309.70" y1="446.0" x2="309.70" y2="448.2" stroke="#333" stroke-width="0.9"/>
<text x="310.20" y="452.2" font-size="4.5" fill="#000" textLength="24.4" lengthAdjust="spacingAndGlyphs">31 Dec 2025</text>
<line x1="340.54" y1="446.0" x2="340.54" y2="448.2" stroke="#333" stroke-width="0.9"/>
<text x="341.04" y="452.2" font-size="4.5" fill="#000" textLength="22.3" lengthAdjust="spacingAndGlyphs">7 Jan 2026</text>
<line x1="371.38" y1="446.0" x2="371.38" y2="448.2" stroke="#333" stroke-width="0.9"/>
<text x="371.88" y="452.2" font-size="4.5" fill="#000" textLength="24.4" lengthAdjust="spacingAndGlyphs">13 Jan 2026</text>
<line x1="402.22" y1="446.0" x2="402.22" y2="448.2" stroke="#333" stroke-width="0.9"/>
<text x="402.72" y="452.2" font-size="4.5" fill="#000" textLength="24.4" lengthAdjust="spacingAndGlyphs">19 Jan 2026</text>
<line x1="433.06" y1="446.0" x2="433.06" y2="448.2" stroke="#333" stroke-width="0.9"/>
<text x="433.56" y="452.2" font-size="4.5" fill="#000" textLength="24.4" lengthAdjust="spacingAndGlyphs">23 Jan 2026</text>
<line x1="463.90" y1="446.0" x2="463.90" y2="448.2" stroke="#333" stroke-width="0.9"/>
<text x="464.40" y="452.2" font-size="4.5" fill="#000" textLength="24.4" lengthAdjust="spacingAndGlyphs">29 Jan 2026</text>
<line x1="494.74" y1="446.0" x2="494.74" y2="448.2" stroke="#333" stroke-width="0.9"/>
<text x="495.24" y="452.2" font-size="4.5" fill="#000" textLength="22.3" lengthAdjust="spacingAndGlyphs">4 Feb 2026</text>
<line x1="525.58" y1="446.0" x2="525.58" y2="448.2" stroke="#333" stroke-width="0.9"/>
<text x="526.08" y="452.2" font-size="4.5" fill="#000" textLength="24.4" lengthAdjust="spacingAndGlyphs">10 Feb 2026</text>
<line x1="556.42" y1="446.0" x2="556.42" y2="448.2" stroke="#333" stroke-width="0.9"/>
<text x="556.92" y="452.2" font-size="4.5" fill="#000" textLength="24.4" lengthAdjust="spacingAndGlyphs">16 Feb 2026</text>
<line x1="587.26" y1="446.0" x2="587.26" y2="448.2" stroke="#333" stroke-width="0.9"/>
<text x="587.76" y="452.2" font-size="4.5" fill="#000" textLength="24.4" lengthAdjust="spacingAndGlyphs">20 Feb 2026</text>
<line x1="618.10" y1="446.0" x2="618.10" y2="448.2" stroke="#333" stroke-width="0.9"/>
<text x="618.60" y="452.2" font-size="4.5" fill="#000" textLength="24.4" lengthAdjust="spacingAndGlyphs">26 Feb 2026</text>
</g>
</svg>
</body></html>
